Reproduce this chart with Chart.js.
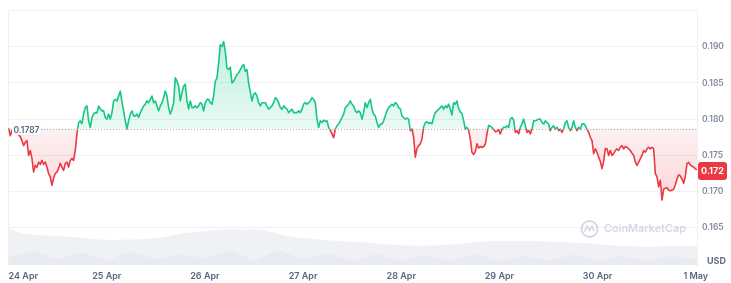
<!DOCTYPE html>
<html>
<head>
<meta charset="utf-8">
<script src="https://cdn.jsdelivr.net/npm/chart.js@4.4.1/dist/chart.umd.min.js"></script>
<style>
  html, body { margin: 0; padding: 0; background: #fff; }
  #wrap { position: relative; width: 731px; height: 283px; }
</style>
</head>
<body>
<div id="wrap"><canvas id="chart"></canvas></div>
<script>
// Price samples (USD), one every ~24.5 min starting 24 Apr 00:00
const stepHours = 0.40751;
const prices = [
  0.17877,0.17771,0.17840,0.17908,0.17853,0.17812,0.17785,0.17758,0.17703,0.17634,0.17679,0.17703,
  0.17497,0.17566,0.17456,0.17268,0.17360,0.17333,0.17405,0.17374,0.17429,0.17374,0.17405,0.17337,
  0.17247,0.17200,0.17086,0.17182,0.17251,0.17268,0.17319,0.17388,0.17337,0.17292,0.17388,0.17405,
  0.17337,0.17429,0.17456,0.17429,0.17566,0.17799,0.17953,0.17977,0.17936,0.18073,0.18159,0.18182,
  0.17977,0.17885,0.18022,0.18073,0.18090,0.18086,0.18182,0.18141,0.18114,0.18114,0.18022,0.18000,
  0.18069,0.18000,0.18090,0.18251,0.18274,0.18251,0.18319,0.18388,0.18237,0.18114,0.17977,0.17863,
  0.17977,0.18069,0.18114,0.18045,0.18045,0.18069,0.18022,0.18090,0.18137,0.18182,0.18206,0.18251,
  0.18227,0.18274,0.18319,0.18227,0.18251,0.18182,0.18114,0.18182,0.18227,0.18296,0.18388,0.18319,
  0.18159,0.18069,0.18137,0.18227,0.18570,0.18525,0.18456,0.18251,0.18364,0.18456,0.18480,0.18251,
  0.18141,0.18251,0.18159,0.18159,0.18182,0.18159,0.18182,0.18227,0.18206,0.18114,0.18227,0.18274,
  0.18274,0.18227,0.18206,0.18319,0.18525,0.18566,0.18775,0.19028,0.19004,0.19073,0.18936,0.18707,
  0.18685,0.18717,0.18501,0.18525,0.18570,0.18617,0.18638,0.18685,0.18730,0.18754,0.18662,0.18685,
  0.18497,0.18374,0.18251,0.18343,0.18364,0.18319,0.18227,0.18182,0.18227,0.18227,0.18227,0.18182,
  0.18137,0.18159,0.18182,0.18227,0.18296,0.18274,0.18227,0.18159,0.18137,0.18182,0.18159,0.18137,
  0.18090,0.18114,0.18137,0.18090,0.18090,0.18090,0.18114,0.18090,0.18137,0.18206,0.18227,0.18206,
  0.18227,0.18251,0.18296,0.18274,0.18227,0.18000,0.17885,0.17977,0.17953,0.17986,0.17967,0.17977,
  0.17885,0.17840,0.17795,0.17744,0.17863,0.17908,0.17932,0.17977,0.18022,0.18069,0.18159,0.18182,
  0.18206,0.18251,0.18206,0.18182,0.18114,0.18090,0.18114,0.18090,0.18000,0.18090,0.18227,0.18159,
  0.18227,0.18274,0.18137,0.18069,0.18045,0.17953,0.17885,0.17932,0.17932,0.17977,0.18045,0.18114,
  0.18159,0.18182,0.18206,0.18182,0.18227,0.18206,0.18159,0.18141,0.18045,0.18022,0.18000,0.18014,
  0.18000,0.17840,0.17863,0.17748,0.17474,0.17593,0.17634,0.17658,0.17726,0.17895,0.17949,0.17963,
  0.17940,0.17949,0.17936,0.18022,0.18090,0.18114,0.18137,0.18159,0.18182,0.18137,0.18182,0.18159,
  0.18206,0.18137,0.18059,0.18227,0.18206,0.18251,0.18141,0.18100,0.18073,0.17977,0.17863,0.17885,
  0.17840,0.17726,0.17538,0.17511,0.17552,0.17658,0.17600,0.17621,0.17607,0.17621,0.17655,0.17795,
  0.17915,0.17901,0.17881,0.17860,0.17826,0.17833,0.17853,0.17795,0.17863,0.17885,0.17885,0.17908,
  0.17885,0.18000,0.18022,0.17986,0.17816,0.17840,0.17795,0.17885,0.17932,0.18000,0.17908,0.17816,
  0.17840,0.17795,0.17863,0.17977,0.17977,0.17986,0.18000,0.18000,0.17953,0.17932,0.17977,0.17953,
  0.17932,0.17840,0.17885,0.17908,0.17863,0.17885,0.17840,0.17863,0.17816,0.17863,0.17953,0.17977,
  0.17885,0.17840,0.17885,0.17977,0.17885,0.17840,0.17885,0.17863,0.17932,0.17940,0.17908,0.17863,
  0.17816,0.17748,0.17703,0.17521,0.17589,0.17542,0.17474,0.17415,0.17315,0.17415,0.17593,0.17589,
  0.17497,0.17566,0.17497,0.17521,0.17566,0.17589,0.17566,0.17611,0.17634,0.17589,0.17621,0.17611,
  0.17589,0.17566,0.17529,0.17497,0.17405,0.17360,0.17405,0.17452,0.17497,0.17566,0.17542,0.17589,
  0.17611,0.17589,0.17611,0.17589,0.17247,0.17200,0.17063,0.17155,0.16881,0.17031,0.17045,0.17052,
  0.17018,0.17011,0.17018,0.17031,0.17093,0.17168,0.17230,0.17216,0.17168,0.17114,0.17210,0.17388,
  0.17401,0.17367,0.17347,0.17337,0.17312,0.17298
];

// Opening price of the period (the dotted reference line)
const baseline = 0.1787;

// Volume (millions USD), hours since 24 Apr 00:00
const volHours = [0, 1.1, 4, 7.7, 12.6, 17.5, 22.3, 29.7, 37, 41.9, 46.8, 51.7, 56.6, 61.5, 63.9, 66.4,
  71.2, 76.1, 81, 88.4, 95.7, 105.5, 112.8, 117.8, 120.3, 127.6, 134.8, 142.2, 149.5, 156.8, 164.2, 168.3];
const volValues = [100, 95, 86, 82, 79, 75, 70, 70, 75, 86, 91, 97, 97, 97, 91, 84,
  75, 70, 66, 61, 54, 54, 61, 66, 66, 66, 63, 59, 52, 50, 53, 52];
const volAltHours = [0, 6, 12, 18, 24, 30, 36, 42, 48, 54, 60, 66, 72, 78, 84, 90, 96, 102, 108, 114,
  120, 126, 132, 138, 144, 150, 156, 162, 168.3];
const volAltValues = [20, 40, 15, 35, 12, 38, 15, 30, 18, 40, 12, 42, 15, 32, 12, 30, 10, 28, 12, 30,
  10, 26, 12, 28, 10, 25, 10, 24, 15];

// Axis ticks
const dayHours = [0, 24, 48, 72, 96, 120, 144, 168];
const dayLabels = ['24 Apr', '25 Apr', '26 Apr', '27 Apr', '28 Apr', '29 Apr', '30 Apr', '1 May'];
const yTicks = [0.165, 0.170, 0.175, 0.180, 0.185, 0.190];

const X_MIN = -0.15;
const X_MAX = 168.3;

const GREEN = '#16c784';
const RED = '#ea3943';
const GRID = '#eff2f5';
const FONT = 'Inter, "Noto Sans", sans-serif';

const pricePoints = prices.map((p, i) => ({ x: i * stepHours, y: p }));
const volPoints = volHours.map((h, i) => ({ x: h, y: volValues[i] }));
const volAltPoints = volAltHours.map((h, i) => ({ x: h, y: volAltValues[i] }));

// where the baseline sits inside the chart area (0 = top, 1 = bottom)
function baseFrac(chart) {
  const area = chart.chartArea;
  const by = chart.scales.y.getPixelForValue(baseline);
  return Math.min(1, Math.max(0, (by - area.top) / (area.bottom - area.top)));
}

function lineColor(context) {
  const chart = context.chart;
  if (!chart.chartArea) return GREEN;
  const { ctx, chartArea } = chart;
  const f = baseFrac(chart);
  const g = ctx.createLinearGradient(0, chartArea.top, 0, chartArea.bottom);
  g.addColorStop(0, GREEN);
  g.addColorStop(f, GREEN);
  g.addColorStop(f, RED);
  g.addColorStop(1, RED);
  return g;
}

function fillColor(context) {
  const chart = context.chart;
  if (!chart.chartArea) return 'rgba(22,199,132,0.15)';
  const { ctx, chartArea } = chart;
  const f = baseFrac(chart);
  const g = ctx.createLinearGradient(0, chartArea.top, 0, chartArea.bottom);
  g.addColorStop(0, 'rgba(22,199,132,0.34)');
  g.addColorStop(f, 'rgba(22,199,132,0.09)');
  g.addColorStop(f, 'rgba(234,57,67,0.07)');
  g.addColorStop(Math.min(1, f + 0.3), 'rgba(234,57,67,0.22)');
  g.addColorStop(1, 'rgba(234,57,67,0.28)');
  return g;
}

// frame lines, dotted baseline, labels and watermark
const decorPlugin = {
  id: 'decor',
  beforeDatasetsDraw(chart) {
    const { ctx, chartArea: a } = chart;
    ctx.save();
    ctx.strokeStyle = GRID;
    ctx.lineWidth = 1;
    ctx.beginPath();
    ctx.moveTo(a.left + 0.5, a.bottom);
    ctx.lineTo(a.left + 0.5, a.top + 0.5);
    ctx.lineTo(a.right, a.top + 0.5);
    ctx.stroke();
    ctx.restore();
  },
  afterDatasetsDraw(chart) {
    const { ctx, chartArea: a, scales } = chart;
    const by = Math.round(scales.y.getPixelForValue(baseline)) + 0.5;
    ctx.save();

    // watermark
    const wx = 589.5, wy = 229;
    ctx.strokeStyle = '#d4d9e2';
    ctx.lineWidth = 2;
    ctx.beginPath();
    ctx.arc(wx, wy, 8, 0, Math.PI * 2);
    ctx.stroke();
    ctx.lineWidth = 1.6;
    ctx.beginPath();
    ctx.moveTo(wx - 5, wy + 3);
    ctx.lineTo(wx - 2.5, wy - 3);
    ctx.lineTo(wx, wy + 1.5);
    ctx.lineTo(wx + 2.5, wy - 3);
    ctx.lineTo(wx + 4.5, wy + 2);
    ctx.stroke();
    ctx.font = '600 13px ' + FONT;
    const w = ctx.measureText('CoinMarketCap').width;
    ctx.font = '600 ' + (13 * 82 / w).toFixed(2) + 'px ' + FONT;
    ctx.fillStyle = '#d4d9e2';
    ctx.textBaseline = 'middle';
    ctx.textAlign = 'left';
    ctx.fillText('CoinMarketCap', 604, wy);

    // dotted baseline
    ctx.strokeStyle = '#a9b1c0';
    ctx.lineWidth = 1;
    ctx.setLineDash([1, 2]);
    ctx.beginPath();
    ctx.moveTo(a.left, by);
    ctx.lineTo(a.right, by);
    ctx.stroke();
    ctx.setLineDash([]);

    // baseline label
    ctx.fillStyle = 'rgba(255,255,255,0.96)';
    ctx.shadowColor = 'rgba(88,102,126,0.15)';
    ctx.shadowBlur = 2;
    ctx.beginPath();
    ctx.roundRect(12, by - 5.5, 29, 11, 3);
    ctx.fill();
    ctx.shadowBlur = 0;
    ctx.shadowColor = 'transparent';
    ctx.font = '600 8.5px ' + FONT;
    ctx.fillStyle = '#58667e';
    ctx.textAlign = 'center';
    ctx.fillText(baseline.toFixed(4), 26.5, by + 0.5);
    ctx.restore();
  },
  afterDraw(chart) {
    const { ctx, chartArea: a, scales } = chart;
    const last = prices[prices.length - 1];
    const py = scales.y.getPixelForValue(last) + 1;
    ctx.save();
    // current price tag
    ctx.fillStyle = RED;
    ctx.beginPath();
    ctx.roundRect(a.right + 1, py - 9, 29, 18, 3);
    ctx.fill();
    ctx.fillStyle = '#fff';
    ctx.font = '700 9px ' + FONT;
    ctx.textAlign = 'center';
    ctx.textBaseline = 'middle';
    ctx.fillText((Math.floor(last * 1000) / 1000).toFixed(3), a.right + 15.5, py + 0.5);
    // currency label
    ctx.fillStyle = '#616e85';
    ctx.font = '700 9px ' + FONT;
    ctx.textAlign = 'left';
    ctx.fillText('USD', a.right + 10, 261.5);
    ctx.restore();
  }
};

new Chart(document.getElementById('chart'), {
  type: 'line',
  data: {
    datasets: [
      {
        label: 'Price',
        data: pricePoints,
        yAxisID: 'y',
        borderColor: lineColor,
        backgroundColor: fillColor,
        borderWidth: 1.6,
        borderJoinStyle: 'round',
        pointRadius: 0,
        tension: 0,
        fill: { target: { value: baseline } },
        order: 0
      },
      {
        label: 'Volume',
        data: volPoints,
        yAxisID: 'yVol',
        borderWidth: 0,
        backgroundColor: 'rgba(214,219,230,0.38)',
        pointRadius: 0,
        tension: 0.3,
        fill: 'origin',
        order: 2
      },
      {
        label: 'Volume (prev)',
        data: volAltPoints,
        yAxisID: 'yVol',
        borderWidth: 0,
        backgroundColor: 'rgba(214,219,230,0.3)',
        pointRadius: 0,
        tension: 0,
        fill: 'origin',
        order: 1
      }
    ]
  },
  options: {
    responsive: true,
    maintainAspectRatio: false,
    animation: false,
    layout: { padding: { left: 8, top: 8, right: 0, bottom: 0 } },
    plugins: { legend: { display: false }, tooltip: { enabled: false } },
    scales: {
      x: {
        type: 'linear',
        min: X_MIN,
        max: X_MAX,
        afterBuildTicks: s => {
          // trailing empty tick at the right edge so '1 May' stays centred
          s.ticks = dayHours.concat([X_MAX]).map(v => ({ value: v }));
        },
        ticks: {
          callback: (v, i) => dayLabels[i] || '',
          align: 'inner',
          autoSkip: false,
          maxRotation: 0,
          padding: 6,
          color: '#58667e',
          font: { family: FONT, size: 9, weight: '600' }
        },
        grid: { display: false, drawTicks: false },
        border: { display: false },
        afterFit: s => { s.height = 18; }
      },
      y: {
        position: 'right',
        min: 0.15983,
        max: 0.19507,
        afterBuildTicks: s => { s.ticks = yTicks.map(v => ({ value: v })); },
        ticks: {
          callback: v => v.toFixed(3),
          padding: 5,
          color: '#808a9d',
          font: { family: FONT, size: 8.5, weight: '600' }
        },
        grid: { color: GRID, drawTicks: false },
        border: { display: true, color: GRID },
        afterFit: s => { s.width = 34; }
      },
      yVol: {
        display: false,
        min: 0,
        max: 700
      }
    }
  },
  plugins: [decorPlugin]
});
</script>
</body>
</html>
